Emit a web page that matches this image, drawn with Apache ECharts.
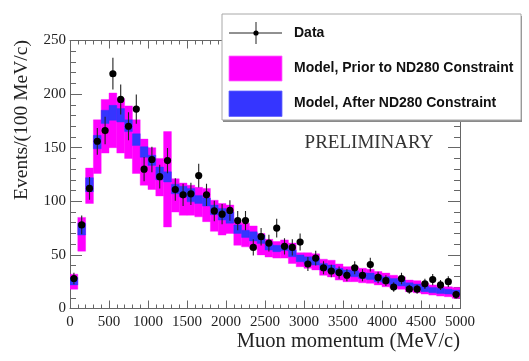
<!DOCTYPE html>
<html>
<head>
<meta charset="utf-8">
<script src="https://cdn.jsdelivr.net/npm/echarts@6/dist/echarts.min.js"></script>
<style>
  html, body { margin: 0; padding: 0; background: #ffffff; }
  #chart { width: 529px; height: 361px; }
</style>
</head>
<body>
<div id="chart"></div>
<script>
// Lower edges of the 100 MeV/c momentum bins
const binLow = [0, 100, 200, 300, 400, 500, 600, 700, 800, 900,
  1000, 1100, 1200, 1300, 1400, 1500, 1600, 1700, 1800, 1900,
  2000, 2100, 2200, 2300, 2400, 2500, 2600, 2700, 2800, 2900,
  3000, 3100, 3200, 3300, 3400, 3500, 3600, 3700, 3800, 3900,
  4000, 4100, 4200, 4300, 4400, 4500, 4600, 4700, 4800, 4900];
const binWidth = 100;

// Observed events per bin
const dataCounts = [28, 78, 112, 156, 166, 219, 195, 170, 186, 130,
  139, 123, 138, 111, 106, 107, 124, 106, 91, 88,
  91.5, 82, 82, 57, 67, 61, 75, 58, 57, 62,
  41.5, 47, 38, 35, 33.5, 31, 38, 31, 41, 29,
  26, 20, 28, 18, 18, 23, 27, 22, 25, 13];

// Model band before the ND280 constraint (upper / lower edge)
const priorHigh = [32, 85, 131, 176, 195, 201, 196, 189, 176, 158,
  150, 140, 165, 121, 117, 115, 113, 112, 101, 98,
  96.5, 81, 79.5, 77, 70, 64.5, 62.5, 64, 61, 52,
  52, 51, 46, 45, 41.5, 39, 39, 37.5, 36.5, 34.5,
  33, 31, 29.5, 26.5, 26, 23.5, 22, 20.5, 20.3, 19.7];
const priorLow = [18, 53.5, 98, 126, 145, 150, 145, 140, 126, 115,
  111, 105, 76, 90, 87, 87, 85.5, 81, 72, 68.5,
  70, 59, 57.5, 56, 50, 48, 47, 47, 42, 39,
  37.5, 36, 31, 29.5, 26.5, 25, 25, 24, 23.5, 22,
  20.3, 19, 18, 15.7, 14.7, 13.5, 12.5, 11.6, 11, 9.5];

// Model band after the ND280 constraint (upper / lower edge)
const postHigh = [29, 79.5, 122, 161.5, 185, 189.5, 186.5, 176, 163, 151,
  143, 132, 127.5, 116, 114, 112, 105.5, 103, 96.5, 93.3,
  90, 78, 73, 71.5, 68.5, 60.7, 59, 59, 54.5, 50,
  48.3, 46.8, 42, 40.5, 37.5, 36, 35.2, 33.4, 33, 31.2,
  29.6, 28, 26.6, 24, 22.8, 21, 19.7, 18.8, 17.9, 17.2];
const postLow = [22, 68.5, 109, 149, 172.5, 175.5, 174, 165, 152, 141,
  133.5, 120, 118, 107, 104, 99.5, 98, 95.5, 87.5, 82.5,
  79.5, 70, 66.3, 63, 60.7, 54.5, 53, 54, 48.3, 43.6,
  42, 40.5, 36, 34.3, 32, 30.3, 29.6, 28.1, 27, 25,
  23.5, 22, 21, 18.8, 18, 15.7, 14.7, 14, 13.5, 12.6];

const legendLabels = ['Data', 'Model, Prior to ND280 Constraint', 'Model, After ND280 Constraint'];
const xTitle = 'Muon momentum (MeV/c)';
const yTitle = 'Events/(100 MeV/c)';
const stampText = 'PRELIMINARY';

const MAGENTA = '#ff00ff';
const BLUE = '#3535ff';
const FRAME = '#666666';
const SERIF = '"Liberation Serif", "DejaVu Serif", serif';
const SANS = '"Liberation Sans", Arial, sans-serif';

// Filled histogram band: one rectangle per bin between low and high edges
function bandSeries(name, lows, highs, color) {
  return {
    type: 'custom',
    name: name,
    xAxisIndex: 0,
    yAxisIndex: 0,
    clip: true,
    silent: true,
    data: binLow.map((x, i) => [x, x + binWidth, lows[i], highs[i]]),
    encode: { x: [0, 1], y: [2, 3] },
    renderItem: function (params, api) {
      const a = api.coord([api.value(0), api.value(3)]);
      const b = api.coord([api.value(1), api.value(2)]);
      return {
        type: 'rect',
        shape: { x: a[0], y: a[1], width: b[0] - a[0], height: b[1] - a[1] },
        style: { fill: color, stroke: color, lineWidth: 0.4 }
      };
    }
  };
}

// Data points with Poisson (sqrt N) vertical error bars
const dataSeries = {
  type: 'custom',
  name: legendLabels[0],
  xAxisIndex: 0,
  yAxisIndex: 0,
  clip: true,
  silent: true,
  data: binLow.map((x, i) => [x + binWidth / 2, dataCounts[i]]),
  encode: { x: 0, y: 1 },
  renderItem: function (params, api) {
    const x = api.value(0);
    const v = api.value(1);
    const err = Math.sqrt(v);
    const top = api.coord([x, v + err]);
    const bot = api.coord([x, v - err]);
    const c = api.coord([x, v]);
    return {
      type: 'group',
      children: [
        { type: 'line', shape: { x1: top[0], y1: top[1], x2: bot[0], y2: bot[1] },
          style: { stroke: '#222222', lineWidth: 1.1 } },
        { type: 'circle', shape: { cx: c[0], cy: c[1], r: 3.6 },
          style: { fill: '#000000' } }
      ]
    };
  }
};

const plainNumber = function (v) { return String(v); };

function frameAxis(extra) {
  return Object.assign({
    type: 'value',
    splitLine: { show: false },
    axisLine: { show: true, onZero: false, lineStyle: { color: FRAME, width: 1 } },
    minorTick: { show: true, splitNumber: 5 },
    minorSplitLine: { show: false }
  }, extra);
}

const LX = 222, LY = 14, LW = 299, LH = 106;

function legendText(text, y) {
  return { type: 'text', z: 103, x: 294, y: y,
    style: { text: text, fill: '#111111', fontFamily: SANS, fontWeight: 'bold', fontSize: 14,
             verticalAlign: 'middle' } };
}

const option = {
  animation: false,
  backgroundColor: '#ffffff',
  grid: { left: 70, top: 40.5, width: 390, height: 268 },
  xAxis: [
    frameAxis({
      min: 0, max: 5000, interval: 500, position: 'bottom',
      axisTick: { show: true, inside: true, length: 8, lineStyle: { color: FRAME } },
      minorTick: { show: true, splitNumber: 5, length: 4, lineStyle: { color: FRAME } },
      axisLabel: { show: true, margin: 6, color: '#222222', fontFamily: SERIF, fontSize: 15,
                   formatter: plainNumber, showMinLabel: true, showMaxLabel: true, hideOverlap: false }
    }),
    frameAxis({
      min: 0, max: 5000, interval: 500, position: 'top',
      axisTick: { show: true, inside: true, length: 8, lineStyle: { color: FRAME } },
      minorTick: { show: true, splitNumber: 5, length: 4, lineStyle: { color: FRAME } },
      axisLabel: { show: false }
    })
  ],
  yAxis: [
    frameAxis({
      min: 0, max: 250, interval: 50, position: 'left',
      axisTick: { show: true, inside: true, length: 12, lineStyle: { color: FRAME } },
      minorTick: { show: true, splitNumber: 5, length: 6, lineStyle: { color: FRAME } },
      axisLabel: { show: true, margin: 4, color: '#222222', fontFamily: SERIF, fontSize: 15,
                   formatter: plainNumber, showMinLabel: true, showMaxLabel: true, hideOverlap: false }
    }),
    frameAxis({
      min: 0, max: 250, interval: 50, position: 'right',
      axisTick: { show: true, inside: true, length: 12, lineStyle: { color: FRAME } },
      minorTick: { show: true, splitNumber: 5, length: 6, lineStyle: { color: FRAME } },
      axisLabel: { show: false }
    })
  ],
  series: [
    bandSeries(legendLabels[1], priorLow, priorHigh, MAGENTA),
    bandSeries(legendLabels[2], postLow, postHigh, BLUE),
    dataSeries
  ],
  graphic: [
    // axis titles
    { type: 'text', x: 460, y: 342, z: 50,
      style: { text: xTitle, fill: '#222222', fontFamily: SERIF, fontSize: 20.5, align: 'right', verticalAlign: 'middle' } },
    { type: 'text', x: 22, y: 120, rotation: Math.PI / 2, z: 50,
      style: { text: yTitle, fill: '#222222', fontFamily: SERIF, fontSize: 19.5, align: 'center', verticalAlign: 'middle' } },
    // preliminary stamp
    { type: 'text', x: 369, y: 143, z: 50,
      style: { text: stampText, fill: '#333333', fontFamily: SERIF, fontSize: 19, align: 'center', verticalAlign: 'middle' } },
    // legend box with shadow along the lower edge
    { type: 'rect', z: 100, shape: { x: LX + 1, y: LY + 2, width: LW, height: LH },
      style: { fill: '#8a8a8a' } },
    { type: 'rect', z: 101, shape: { x: LX, y: LY, width: LW, height: LH },
      style: { fill: '#ffffff', stroke: '#a8a8a8', lineWidth: 1 } },
    // data entry: cross with marker
    { type: 'line', z: 102, shape: { x1: 229, y1: 33, x2: 282, y2: 33 },
      style: { stroke: '#222222', lineWidth: 1 } },
    { type: 'line', z: 102, shape: { x1: 256, y1: 22, x2: 256, y2: 44 },
      style: { stroke: '#222222', lineWidth: 1 } },
    { type: 'circle', z: 103, shape: { cx: 256, cy: 33, r: 2.6 }, style: { fill: '#000000' } },
    legendText(legendLabels[0], 33),
    // prior model entry
    { type: 'rect', z: 102, shape: { x: 229, y: 56, width: 53, height: 25 },
      style: { fill: MAGENTA, stroke: '#ff66ff', lineWidth: 0.8 } },
    legendText(legendLabels[1], 68.5),
    // constrained model entry
    { type: 'rect', z: 102, shape: { x: 229, y: 91, width: 53, height: 25.5 },
      style: { fill: BLUE, stroke: '#6666ff', lineWidth: 0.8 } },
    legendText(legendLabels[2], 103)
  ]
};

const chart = echarts.init(document.getElementById('chart'), null, { renderer: 'canvas' });
chart.setOption(option);
</script>
</body>
</html>
